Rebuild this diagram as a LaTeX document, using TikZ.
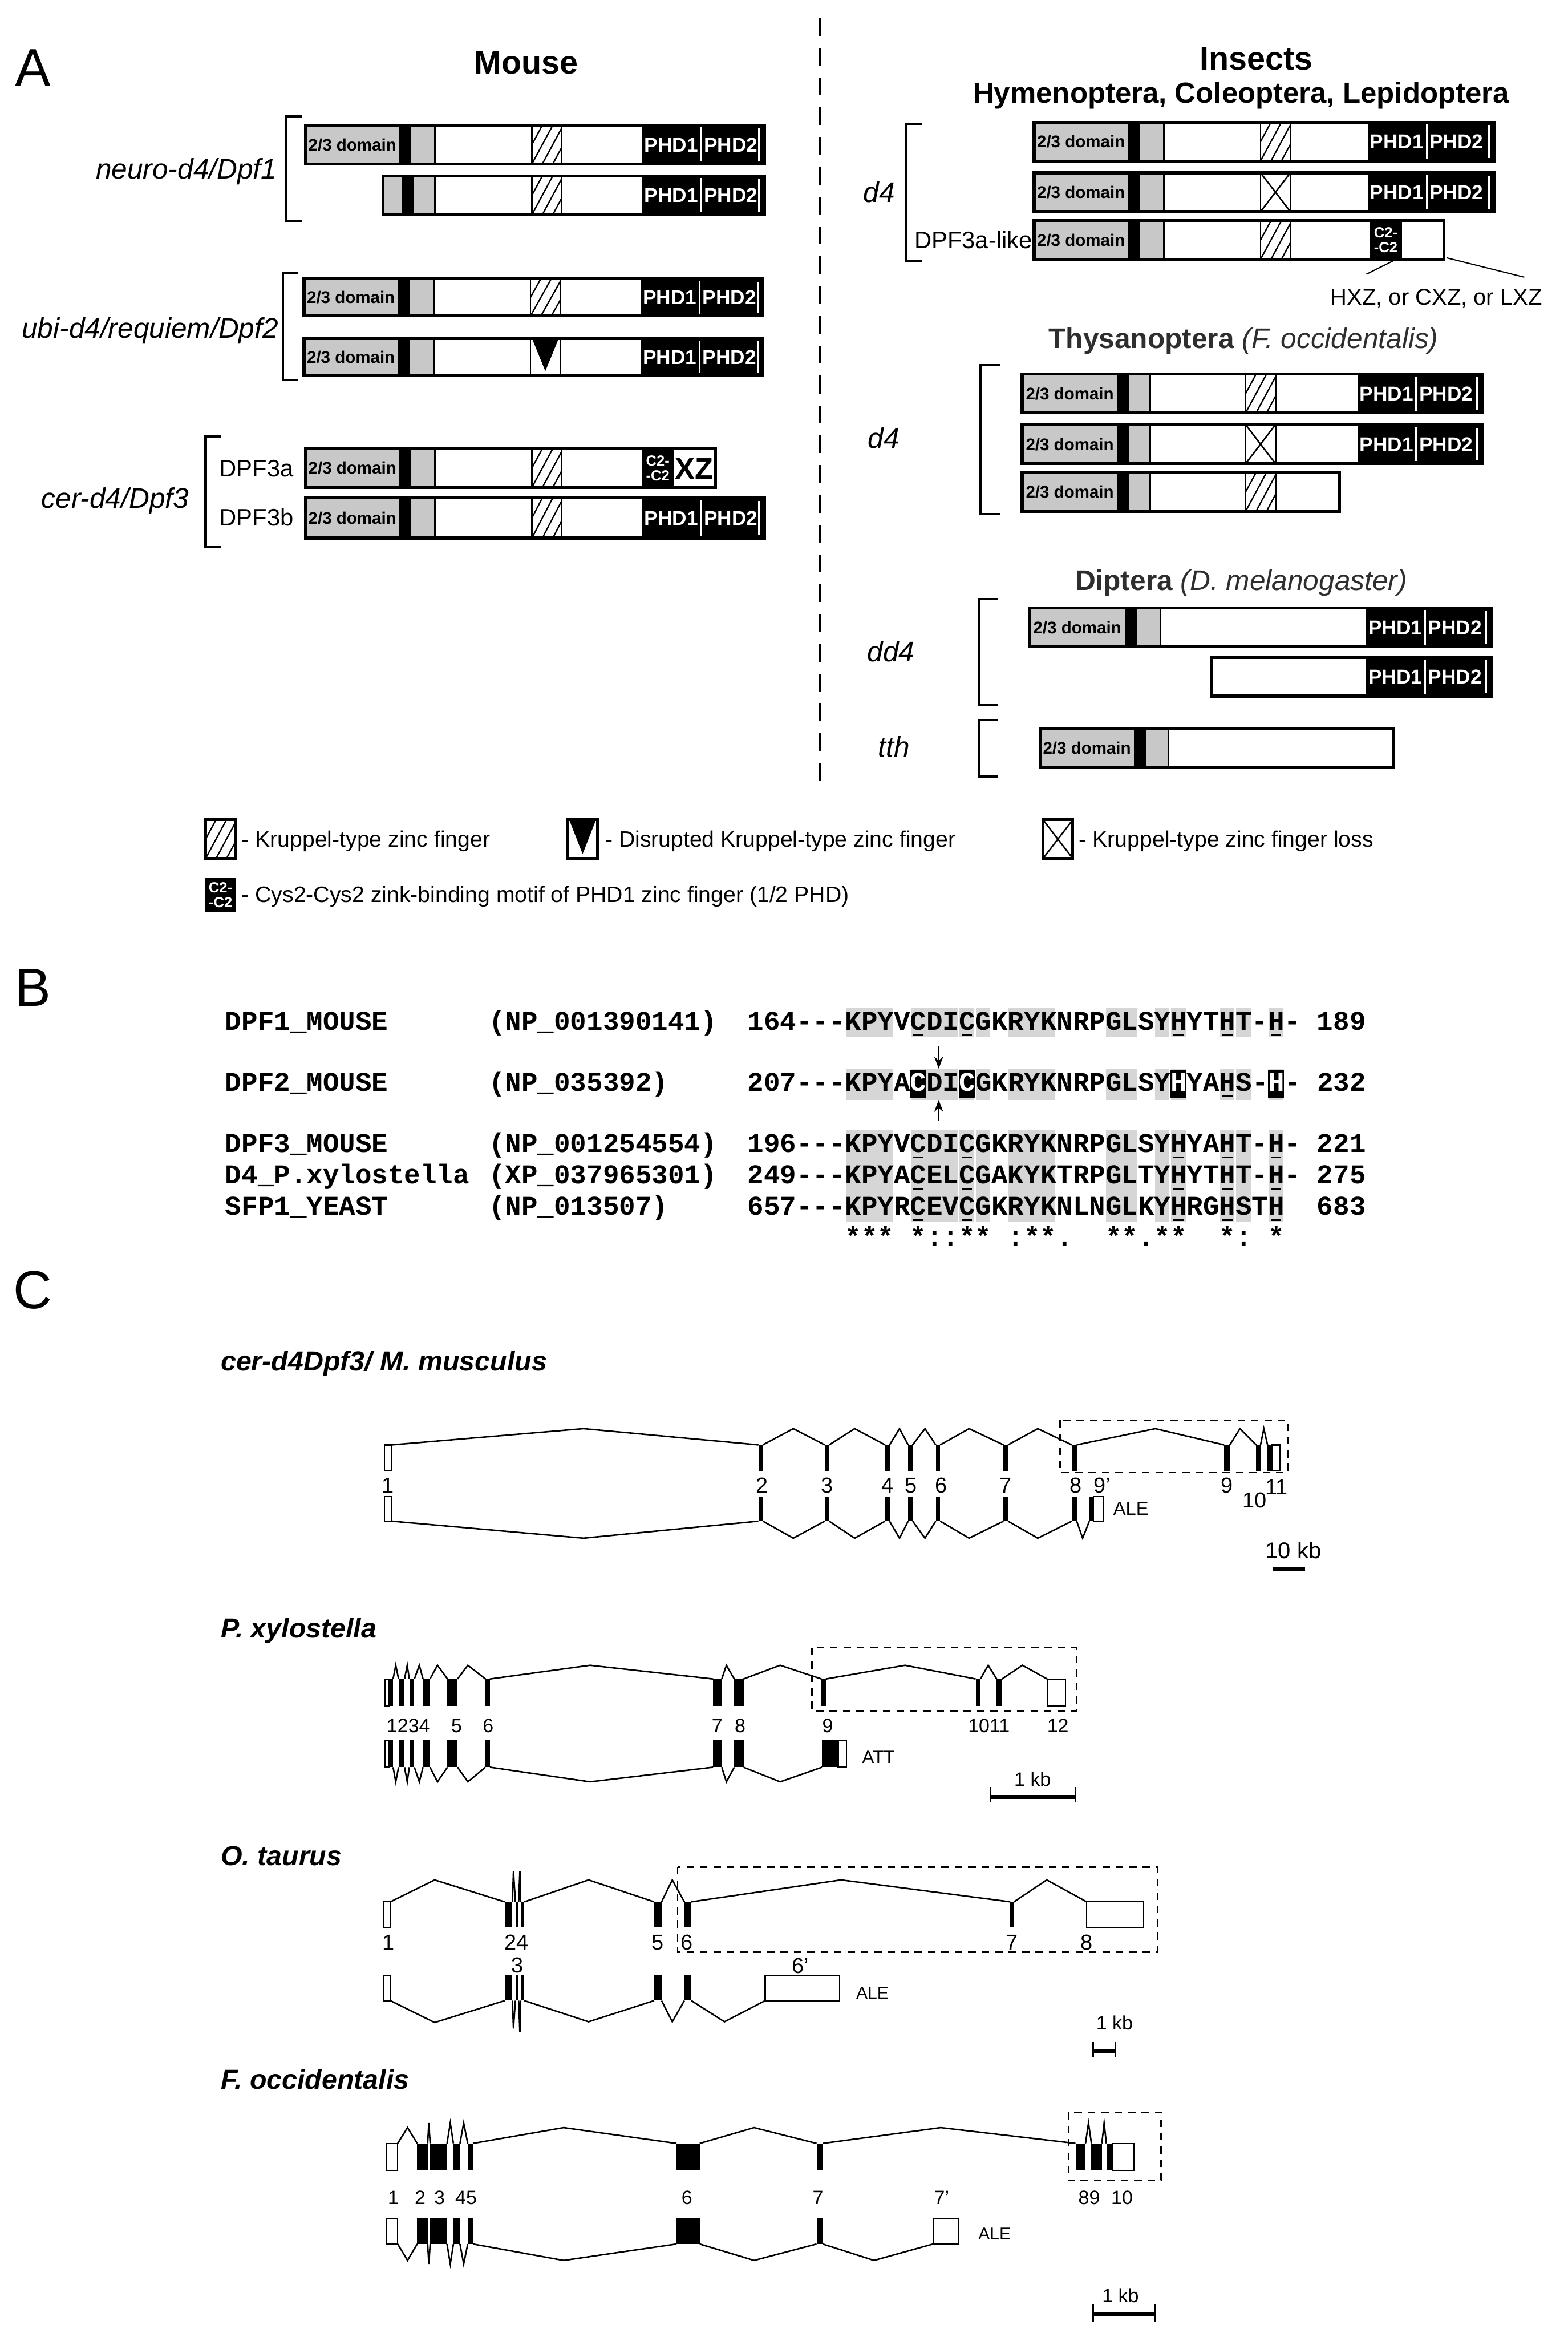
\documentclass[tikz,border=0pt]{standalone}
\usepackage{fontspec}
\setmainfont{Liberation Sans}
\setmonofont{Liberation Mono}
\usetikzlibrary{arrows.meta}
\definecolor{dgrey}{RGB}{200,200,200}
\definecolor{sgrey}{RGB}{214,214,214}
\newcommand\fs[1]{\fontsize{#1}{#1}\selectfont}
\tikzset{
  tx/.style={inner sep=0pt, text height=#1*0.72pt, text depth=0pt},
  boxline/.style={line width=2pt},
  sepline/.style={line width=1.1pt},
  brk/.style={line width=1.6pt},
  dom/.style={tx=11.3, font=\bfseries\fs{11.3}},
  phdt/.style={tx=13.5, font=\bfseries\fs{13.5}, text=white},
  ctt/.style={inner sep=0pt, font=\bfseries\fontsize{9.8}{10}\selectfont, text=white, align=center},
  glab/.style={tx=19, font=\itshape\fs{19}},
  ilab/.style={tx=16, font=\fs{16}},
  lg/.style={tx=15, font=\fs{15}, anchor=west},
  seqt/.style={inner sep=0pt, font=\ttfamily\bfseries\fs{18.2}, anchor=base west},
  ttl/.style={tx=18.5, font=\bfseries\itshape\fs{18.5}, anchor=west},
  nm/.style={tx=14.5, font=\fs{14.5}},
  ns/.style={tx=13, font=\fs{13}},
  intron/.style={line width=1pt},
  dbox/.style={line width=1pt, dash pattern=on 5pt off 4pt},
  sbar/.style={line width=2.8pt},
}
% protein row helpers: #1 ytop #2 ybot
\newcommand\protbase[6]{%
  \fill[white] (#3,#1) rectangle (#6,#2);
  \fill[dgrey] (#3,#1) rectangle (#5,#2);
  \fill[black] (#4,#1) rectangle ({#4+8},#2);
  \draw[sepline] (#5,#1) -- (#5,#2);}
\newcommand\domlabel[4]{\node[dom] at ({(#3+#4)/2},{(#1+#2)/2}) {2/3 domain};}
\newcommand\hatchslot[3]{%
  \begin{scope}
    \clip (#3,#1) rectangle ({#3+20},#2);
    \foreach \o in {-14,-7,0,7,14} {\draw[line width=0.9pt] ({#3+\o},#2) -- ({#3+\o+14},#1);}
  \end{scope}
  \draw[sepline] (#3,#1) -- (#3,#2) ({#3+20},#1) -- ({#3+20},#2);}
\newcommand\crossslot[3]{%
  \draw[sepline] (#3,#1) -- (#3,#2) ({#3+20},#1) -- ({#3+20},#2);
  \draw[line width=1pt] (#3,#1) -- ({#3+20},#2) (#3,#2) -- ({#3+20},#1);}
\newcommand\trislot[3]{%
  \draw[sepline] (#3,#1) -- (#3,#2) ({#3+20},#1) -- ({#3+20},#2);
  \fill ({#3+1},#1) -- ({#3+19},#1) -- ({#3+10},{#2-3}) -- cycle;}
\newcommand\phd[4]{%
  \fill (#3,#1) rectangle (#4,#2);
  \draw[white, line width=1.3pt] ({#3+39.5},{#1+1.5}) -- ({#3+39.5},{#2-1.5})
       ({#4-3.5},{#1+2}) -- ({#4-3.5},{#2-2});
  \node[phdt] at ({#3+19.5},{(#1+#2)/2}) {PHD1};
  \node[phdt] at ({#3+59.5},{(#1+#2)/2}) {PHD2};}
\newcommand\ctwo[4]{%
  \fill (#3,#1) rectangle ({#3+#4},#2);
  \node[ctt] at ({#3+#4/2},{(#1+#2)/2}) {C2-\\-C2};}
\newcommand\outl[4]{\draw[boxline] (#3,#1) rectangle (#4,#2);}
% gene helpers
\newcommand\exb[4]{\fill (#1,#3) rectangle (#2,#4);}
\newcommand\exo[4]{\filldraw[fill=white, line width=0.9pt] (#1,#3) rectangle (#2,#4);}
\newcommand\intr[5]{\draw[intron] (#1,#4) -- (#2,#5) -- (#3,#4);}
\newcommand\wc[1]{\textcolor{white}{#1}}

\begin{document}
\begin{tikzpicture}[x=1pt,y=-1pt]
\fill[white] (0,0) rectangle (1052,1568);
\useasboundingbox (0,0) rectangle (1052,1568);

% ---------------- panel letters
\node[tx=36, font=\fs{36}] (lA) at (22,45) {A};
\node[tx=36, font=\fs{36}] (lB) at (22,662) {B};
\node[tx=36, font=\fs{36}] (lC) at (22,865) {C};

% ---------------- panel A headings
\node[tx=22, font=\bfseries\fs{22}] (hMouse) at (353,41.5) {Mouse};
\node[tx=22, font=\bfseries\fs{22}] (hIns) at (843,39) {Insects};
\node[tx=19.5, font=\bfseries\fs{19.5}] (hHym) at (833,62) {Hymenoptera, Coleoptera, Lepidoptera};
\node[tx=19, font=\fs{19}, text=black!82] (hThy) at (834.5,227) {\bfseries Thysanoptera \mdseries\itshape (F. occidentalis)};
\node[tx=19, font=\fs{19}, text=black!82] (hDip) at (833,389) {\bfseries Diptera \mdseries\itshape (D. melanogaster)};

\draw[line width=1.5pt, dash pattern=on 12pt off 8pt] (550,12) -- (550,528);

% ---------------- mouse brackets and labels
\draw[brk] (203,78) -- (192,78) -- (192,148) -- (203,148);
\draw[brk] (200,183) -- (190,183) -- (190,255) -- (200,255);
\draw[brk] (148,293) -- (138,293) -- (138,367) -- (148,367);
\node[glab, anchor=east] (gN) at (186,113) {neuro-d4/Dpf1};
\node[glab, anchor=east] (gU) at (187,220) {ubi-d4/requiem/Dpf2};
\node[glab, anchor=east] (gC) at (127,334) {cer-d4/Dpf3};
\node[ilab, anchor=west] (g3a) at (147,314) {DPF3a};
\node[ilab, anchor=west] (g3b) at (147,347) {DPF3b};

% N1
\protbase{84}{110}{205}{268}{292}{513}
\domlabel{84}{110}{205}{268}
\hatchslot{84}{110}{357}
\phd{84}{110}{431}{513}
\outl{84}{110}{205}{513}
% N2
\protbase{118}{144}{257}{270}{292}{513}
\hatchslot{118}{144}{357}
\phd{118}{144}{431}{513}
\outl{118}{144}{257}{513}
% U1
\protbase{187}{212}{204}{267}{291}{512}
\domlabel{187}{212}{204}{267}
\hatchslot{187}{212}{356}
\phd{187}{212}{430}{512}
\outl{187}{212}{204}{512}
% U2
\protbase{227}{252}{204}{267}{291}{512}
\domlabel{227}{252}{204}{267}
\trislot{227}{252}{356}
\phd{227}{252}{430}{512}
\outl{227}{252}{204}{512}
% DPF3a
\protbase{301}{327}{205}{268}{292}{480}
\domlabel{301}{327}{205}{268}
\hatchslot{301}{327}{357}
\ctwo{301}{327}{431}{21}
\node[tx=20, font=\bfseries\fs{20}] (xz) at (466,314) {XZ};
\outl{301}{327}{205}{480}
% DPF3b
\protbase{334}{361}{205}{268}{292}{513}
\domlabel{334}{361}{205}{268}
\hatchslot{334}{361}{357}
\phd{334}{361}{431}{513}
\outl{334}{361}{205}{513}

% ---------------- insects: Hym/Col/Lep
\draw[brk] (619,83) -- (608,83) -- (608,175) -- (619,175);
\node[glab] (gd4a) at (590,129) {d4};
\node[ilab, anchor=east] (g3al) at (693,161) {DPF3a-like};
\protbase{82}{108}{694}{757}{781}{1003}
\domlabel{82}{108}{694}{757}
\hatchslot{82}{108}{846}
\phd{82}{108}{918}{1003}
\outl{82}{108}{694}{1003}
\protbase{116}{142}{694}{757}{781}{1003}
\domlabel{116}{142}{694}{757}
\crossslot{116}{142}{846}
\phd{116}{142}{918}{1003}
\outl{116}{142}{694}{1003}
\protbase{148}{174}{694}{757}{781}{969}
\domlabel{148}{174}{694}{757}
\hatchslot{148}{174}{846}
\ctwo{148}{174}{919}{22}
\outl{148}{174}{694}{969}
\coordinate (c2b) at (937,174);
\coordinate (c2e) at (917,184);
\coordinate (xzb) at (971,173);
\coordinate (xze) at (1023,186);
\draw[line width=0.8pt] (c2b) -- (c2e) (xzb) -- (xze);
\node[tx=15.3, font=\fs{15.3}] (hxz) at (964,199) {HXZ, or CXZ, or LXZ};

% ---------------- Thysanoptera
\draw[brk] (671,245) -- (658,245) -- (658,345) -- (671,345);
\node[glab] (gd4b) at (593,294) {d4};
\protbase{251}{277}{686}{750}{772}{995}
\domlabel{251}{277}{686}{750}
\hatchslot{251}{277}{836}
\phd{251}{277}{911}{995}
\outl{251}{277}{686}{995}
\protbase{285}{311}{686}{750}{772}{995}
\domlabel{285}{311}{686}{750}
\crossslot{285}{311}{836}
\phd{285}{311}{911}{995}
\outl{285}{311}{686}{995}
\protbase{317}{343}{686}{750}{772}{899}
\domlabel{317}{343}{686}{750}
\hatchslot{317}{343}{836}
\outl{317}{343}{686}{899}

% ---------------- Diptera
\draw[brk] (670,402) -- (657,402) -- (657,473) -- (670,473);
\node[glab] (gdd4) at (598,437) {dd4};
\protbase{408}{434}{691}{755}{779}{1001}
\domlabel{408}{434}{691}{755}
\phd{408}{434}{917}{1001}
\outl{408}{434}{691}{1001}
\fill[white] (813,441) rectangle (917,467);
\phd{441}{467}{917}{1001}
\outl{441}{467}{813}{1001}
\draw[brk] (670,483) -- (657,483) -- (657,521) -- (670,521);
\node[glab] (gtth) at (600,501) {tth};
\protbase{489}{515}{698}{761}{784}{935}
\domlabel{489}{515}{698}{761}
\outl{489}{515}{698}{935}

% ---------------- legend
\fill[white] (138,550) rectangle (158,576);
\hatchslot{550}{576}{138}
\draw[boxline] (138,550) rectangle (158,576);
\node[lg] (lg1) at (162,563) {- Kruppel-type zinc finger};
\fill[white] (381,550) rectangle (401,576);
\trislot{550}{576}{381}
\draw[boxline] (381,550) rectangle (401,576);
\node[lg] (lg2) at (406,563) {- Disrupted Kruppel-type zinc finger};
\fill[white] (700,550) rectangle (720,576);
\crossslot{550}{576}{700}
\draw[boxline] (700,550) rectangle (720,576);
\node[lg] (lg3) at (724,563) {- Kruppel-type zinc finger loss};
\ctwo{589}{612}{138}{20}
\node[lg] (lg4) at (162,600) {- Cys2-Cys2 zink-binding motif of PHD1 zinc finger (1/2 PHD)};

% ---------------- panel B
\foreach \ya/\yb in {676/696, 717/738, 758/820} {
  \foreach \ca/\cb in {0/3, 4/7, 7/8, 8/9, 10/13, 16/18, 19/20, 20/21, 23/24, 24/25, 26/27} {
    \fill[sgrey] ({567+10.92*\ca+0.6},\ya) rectangle ({567+10.92*\cb-0.6},\yb);
  }
}
\foreach \c in {4,7,20,26} {\fill ({567+10.92*\c},718) rectangle ({567+10.92*(\c+1)},737);}

\node[seqt] (n1) at (151,691) {DPF1\_MOUSE};
\node[seqt] (a1) at (328,691) {(NP\_001390141)};
\node[seqt] (s1) at (501.5,691) {164-{}-{}-KPYVCDICGKRYKNRPGLSYHYTHT-H-~189};
\node[seqt] (n2) at (151,732) {DPF2\_MOUSE};
\node[seqt] (a2) at (328,732) {(NP\_035392)};
\node[seqt] (s2) at (501.5,732) {207-{}-{}-KPYA\wc{C}DI\wc{C}GKRYKNRPGLSY\wc{H}YAHS-\wc{H}-~232};
\node[seqt] (n3) at (151,773) {DPF3\_MOUSE};
\node[seqt] (a3) at (328,773) {(NP\_001254554)};
\node[seqt] (s3) at (501.5,773) {196-{}-{}-KPYVCDICGKRYKNRPGLSYHYAHT-H-~221};
\node[seqt] (n4) at (151,794) {D4\_P.xylostella};
\node[seqt] (a4) at (328,794) {(XP\_037965301)};
\node[seqt] (s4) at (501.5,794) {249-{}-{}-KPYACELCGAKYKTRPGLTYHYTHT-H-~275};
\node[seqt] (n5) at (151,815) {SFP1\_YEAST};
\node[seqt] (a5) at (328,815) {(NP\_013507)};
\node[seqt] (s5) at (501.5,815) {657-{}-{}-KPYRCEVCGKRYKNLNGLKYHRGHSTH~~683};
\node[seqt] (cons) at (567,836) {***~*::**~:**.~~**.**~~*:~*};
% underlines
\foreach \y in {694.5, 776.5, 797.5, 818.5} {
  \foreach \c in {4,7,20,23,26} {\draw[line width=1.2pt] ({567+10.92*\c+2},\y) -- ({567+10.92*\c+9},\y);}
}
\draw[line width=1.2pt] ({567+10.92*23+2},735.5) -- ({567+10.92*23+9},735.5);
\coordinate (ar1a) at (630,702);
\coordinate (ar1b) at (630,717);
\coordinate (ar2a) at (630,752);
\coordinate (ar2b) at (630,738);
\draw[line width=1pt, -{Stealth[length=8pt,width=6pt]}] (ar1a) -- (ar1b);
\draw[line width=1pt, -{Stealth[length=8pt,width=6pt]}] (ar2a) -- (ar2b);

% ---------------- panel C : mouse
\node[ttl] (t1) at (148,913) {cer-d4Dpf3/ M. musculus};
\foreach \a/\p/\b in {263/391.6/509, 512/532.4/553.5, 556.5/573.6/594, 597/603.7/609.5, 612.5/620.8/628, 631/650.4/673.5, 676.5/696.5/719.3, 722.6/775.4/821.5, 825.4/832.2/843.1, 846/848.2/850.7}
  {\intr{\a}{\p}{\b}{969.4}{958.5}}
\foreach \a/\p/\b in {263/391.6/509, 512/532.4/553.5, 556.5/573.6/594, 597/603.7/609.5, 612.5/620.8/628, 631/650.4/673.5, 676.5/696.5/719.3, 722.6/726.6/731.1}
  {\intr{\a}{\p}{\b}{1020.6}{1032}}
\exo{258}{263}{969.4}{987}
\foreach \a/\b in {509/512, 553.5/556.5, 594/597, 609.5/612.5, 628/631, 673.5/676.5, 719.3/722.6, 821.5/825.4, 843.1/846, 850.7/853.7} {\exb{\a}{\b}{969.4}{987}}
\exo{853.7}{859.2}{969.4}{987}
\exo{258}{263}{1004}{1020.6}
\foreach \a/\b in {509/512, 553.5/556.5, 594/597, 609.5/612.5, 628/631, 673.5/676.5, 719.3/722.6} {\exb{\a}{\b}{1004}{1020.6}}
\exb{731.1}{733.9}{1004}{1020.6}
\exo{733.9}{740.8}{1004}{1020.6}
\draw[dbox] (711.5,953) rectangle (864.5,988);
\foreach \x/\t in {260.5/1, 511.5/2, 555/3, 595.5/4, 611.5/5, 631.5/6, 675/7, 722/8, 739.5/9', 823.3/9} {\node[nm] at (\x,996.5) {\t};}
\node[nm] (m10) at (842,1006.4) {10};
\node[nm] (m11) at (856.7,997.6) {11};
\node[tx=12.5, font=\fs{12.5}, anchor=west] (mALE) at (747,1012) {ALE};
\node[tx=15.3, font=\fs{15.3}] (m10kb) at (868,1040) {10 kb};
\coordinate (mb1) at (854,1053);
\coordinate (mb2) at (876,1053);
\draw[sbar] (mb1) -- (mb2);

% ---------------- P. xylostella
\node[ttl] (t2) at (148,1092) {P. xylostella};
\foreach \a/\p/\b in {263.8/265.6/267.5, 271.5/273.3/274.7, 278.1/281.4/283.9, 288.6/293.6/300.3, 307.1/314/325.8, 328.8/396/478.6, 484.4/487.5/492.8, 499/523.6/551.3, 554.3/607.4/654.8, 658/663.2/668.9, 672.5/686.2/702.8}
  {\intr{\a}{\p}{\b}{1126.5}{1117.3}}
\foreach \a/\p/\b in {263.8/265.6/267.5, 271.5/273.3/274.7, 278.1/281.4/283.9, 288.6/293.6/300.3, 307.1/314/325.8, 328.8/396/478.6, 484.4/487.5/492.8, 499/523.6/551.7}
  {\intr{\a}{\p}{\b}{1185.7}{1195.5}}
\exo{258.5}{261.1}{1126.5}{1144.7}
\foreach \a/\b in {261.1/263.8, 267.5/271.5, 274.7/278.1, 283.9/288.6, 300.3/307.1, 325.8/328.8, 478.6/484.4, 492.8/499, 551.3/554.3, 654.8/658, 668.9/672.5} {\exb{\a}{\b}{1126.5}{1144.7}}
\exo{702.8}{715}{1126.5}{1144.7}
\exo{258.5}{261.1}{1167.6}{1185.7}
\foreach \a/\b in {261.1/263.8, 267.5/271.5, 274.7/278.1, 283.9/288.6, 300.3/307.1, 325.8/328.8, 478.6/484.4, 492.8/499} {\exb{\a}{\b}{1167.6}{1185.7}}
\exo{562.5}{568.2}{1167.6}{1185.7}
\exb{551.7}{563.2}{1167.6}{1185.7}
\draw[dbox] (545,1105.6) rectangle (722.7,1147.9);
\foreach \x/\t in {274/1234, 306.5/5, 327.6/6, 481.3/7, 496.7/8, 555.5/9, 663.7/1011, 710/12} {\node[ns] at (\x,1157.6) {\t};}
\node[tx=12, font=\fs{12}, anchor=west] (pATT) at (578.5,1178.8) {ATT};
\node[tx=13, font=\fs{13}] (p1kb) at (693,1193.6) {1 kb};
\coordinate (pb1) at (665,1205.7);
\coordinate (pb2) at (722,1205.7);
\draw[sbar] (pb1) -- (pb2);
\draw[line width=1pt] (665,1199) -- (665,1209) (722,1199) -- (722,1209);

% ---------------- O. taurus
\node[ttl] (t3) at (148,1245) {O. taurus};
\foreach \a/\p/\b/\q in {262/291.7/338.7/1261.3, 343.9/344.6/345.9/1255.5, 348.1/348.9/349.4/1255.4, 351.9/395/439/1261.3, 444/451.2/459.3/1261.3, 464/564.5/678/1261.3, 680.5/702.5/729.3/1261.3}
  {\intr{\a}{\p}{\b}{1276}{\q}}
\foreach \a/\p/\b/\q in {262/291.7/338.7/1357, 343.9/344.6/345.9/1361, 348.1/348.9/349.4/1363.5, 351.9/395/439/1356.5, 444/451.2/459.3/1356.5, 464/486.2/513.5/1356.5}
  {\intr{\a}{\p}{\b}{1342.3}{\q}}
\exo{257.7}{262}{1276}{1293.3}
\foreach \a/\b in {338.7/343.9, 345.9/348.1, 349.4/351.9, 439/444, 459.3/464, 678/680.5} {\exb{\a}{\b}{1276}{1293.3}}
\exo{729.3}{767.5}{1276}{1293.3}
\exo{257.7}{262}{1325.4}{1342.3}
\foreach \a/\b in {338.7/343.9, 345.9/348.1, 349.4/351.9, 439/444, 459.3/464} {\exb{\a}{\b}{1325.4}{1342.3}}
\exo{513.5}{563.6}{1325.4}{1342.3}
\draw[dbox] (454.8,1252.7) rectangle (776.8,1309.7);
\foreach \x/\t in {260.7/1, 346.7/24, 441.5/5, 461/6, 679.1/7, 729.3/8} {\node[nm] at (\x,1303) {\t};}
\node[nm] (o3) at (347.2,1318.3) {3};
\node[nm] (o6p) at (537,1318.9) {6'};
\node[tx=11.5, font=\fs{11.5}] (oALE) at (585.5,1336.9) {ALE};
\node[tx=13, font=\fs{13}] (o1kb) at (748,1357) {1 kb};
\coordinate (ob1) at (733.6,1376);
\coordinate (ob2) at (748.8,1376);
\draw[sbar] (ob1) -- (ob2);
\draw[line width=1pt] (733.6,1370) -- (733.6,1380) (748.8,1370) -- (748.8,1380);

% ---------------- F. occidentalis
\node[ttl] (t4) at (148,1395) {F. occidentalis};
\foreach \a/\p/\b/\q in {266.9/273.5/280/1427.5, 287/287.8/288.7/1424.4, 300/302.2/304.3/1424.4, 308.7/311.2/313.9/1424.4, 317.4/378.3/454/1427.5, 469.6/506.1/548/1427.5, 552.2/631.4/721.8/1427.5, 728.5/730.5/732.5/1424.4, 739.5/741/742.5/1424.4}
  {\intr{\a}{\p}{\b}{1438.1}{\q}}
\foreach \a/\p/\b/\q in {266.9/273.5/280/1516.6, 287/287.8/288.7/1519, 300/302.2/304.3/1519, 308.7/311.2/313.9/1519, 317.4/378.3/454/1516.6, 469.6/506.1/548/1516.6, 552.2/586.6/626.2/1516.6}
  {\intr{\a}{\p}{\b}{1505.6}{\q}}
\exo{259.5}{266.9}{1438.1}{1456.2}
\foreach \a/\b in {280/287, 288.7/300, 304.3/308.7, 313.9/317.4, 454/469.6, 548/552.2, 721.8/728.5, 732.5/739.5, 742.5/746.6} {\exb{\a}{\b}{1438.1}{1456.2}}
\exo{746.6}{761}{1438.1}{1456.2}
\exo{259.5}{266.9}{1488.5}{1505.6}
\foreach \a/\b in {280/287, 288.7/300, 304.3/308.7, 313.9/317.4, 454/469.6, 548/552.2} {\exb{\a}{\b}{1488.5}{1505.6}}
\exo{626.2}{643.1}{1488.5}{1505.6}
\draw[dbox] (717,1417.2) rectangle (779.2,1463);
\foreach \x/\t in {264/1, 282/2, 295/3, 312.8/45, 461/6, 549/7, 632/7', 731/89, 753/10} {\node[ns] at (\x,1474.2) {\t};}
\node[tx=11.5, font=\fs{11.5}] (fALE) at (667.5,1498.5) {ALE};
\node[tx=13, font=\fs{13}] (f1kb) at (752,1540) {1 kb};
\coordinate (fb1) at (733.6,1552.7);
\coordinate (fb2) at (774.9,1552.7);
\draw[sbar] (fb1) -- (fb2);
\draw[line width=1pt] (733.6,1546) -- (733.6,1558) (774.9,1546) -- (774.9,1558);
\end{tikzpicture}
\end{document}
